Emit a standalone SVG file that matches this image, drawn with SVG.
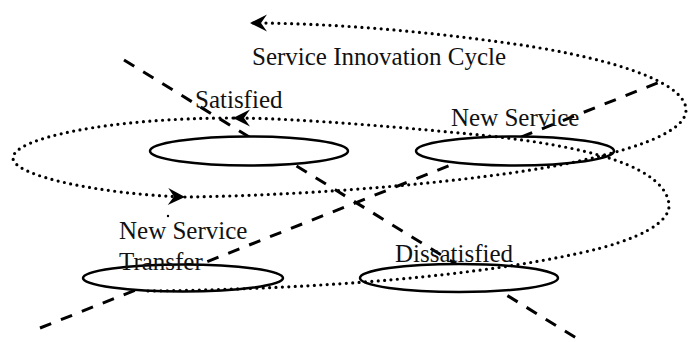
<svg xmlns="http://www.w3.org/2000/svg" width="696" height="342" viewBox="0 0 696 342">
  <style>
    .axis { fill: none; stroke: #000; stroke-width: 3; stroke-dasharray: 12 10.5; }
    .state { fill: #fff; stroke: #000; stroke-width: 2.5; }
    .label { font-family: "Liberation Serif", "Times New Roman", serif; font-size: 25px; fill: #111; }
    .cycle { fill: none; stroke: #000; stroke-width: 3.2; stroke-linecap: round; stroke-dasharray: 0 6.4; }
  </style>
  <defs>
    <marker id="barb" markerUnits="userSpaceOnUse" markerWidth="22" markerHeight="22" viewBox="-20 -11 22 22" refX="0" refY="0" orient="auto">
      <path d="M0,0 L-17,-8.5 L-11,0 L-17,8.5 Z" fill="#000"/>
    </marker>
  </defs>
  <rect width="696" height="342" fill="#fff"/>

  <!-- quadrant axes -->
  <g id="axes">
    <line class="axis" x1="124" y1="60" x2="578" y2="339"/>
    <line class="axis" x1="40" y1="328" x2="660" y2="82"/>
  </g>

  <!-- states -->
  <g id="node-satisfied">
    <ellipse class="state" cx="249" cy="151" rx="99" ry="14.5"/>
    <text class="label" x="195" y="108">Satisfied</text>
  </g>
  <g id="node-new-service">
    <ellipse class="state" cx="515" cy="151" rx="99" ry="14.5"/>
    <text class="label" x="451" y="126">New Service</text>
  </g>
  <g id="node-transfer">
    <ellipse class="state" cx="183" cy="278" rx="100" ry="13.5"/>
    <text class="label" x="119" y="239">New Service</text>
    <text class="label" x="119" y="270">Transfer</text>
  </g>
  <g id="node-dissatisfied">
    <ellipse class="state" cx="459" cy="278" rx="99" ry="14"/>
    <text class="label" x="395" y="262">Dissatisfied</text>
  </g>

  <!-- innovation spiral -->
  <g id="connectors">
    <path class="cycle" marker-end="url(#barb)" d="M148,291 C330,289 480,275 580,253 C640,240 670,222 669,205 C668,188 650,172 615,160 C580,148 530,140 480,135 C420,129 300,118 233,118"/>
    <path class="cycle" marker-end="url(#barb)" d="M233,118 C110,118 13,138 13,158 C13,176 100,194 185,197"/>
    <path class="cycle" marker-end="url(#barb)" d="M185,197 C330,195 480,180 560,165 C620,153 686,135 686,110 C686,80 600,55 500,42 C420,31 330,23 250,23"/>
    <circle cx="168" cy="216" r="1.2" fill="#000"/>
  </g>

  <g id="title">
    <text class="label" x="252" y="65">Service Innovation Cycle</text>
  </g>
</svg>
